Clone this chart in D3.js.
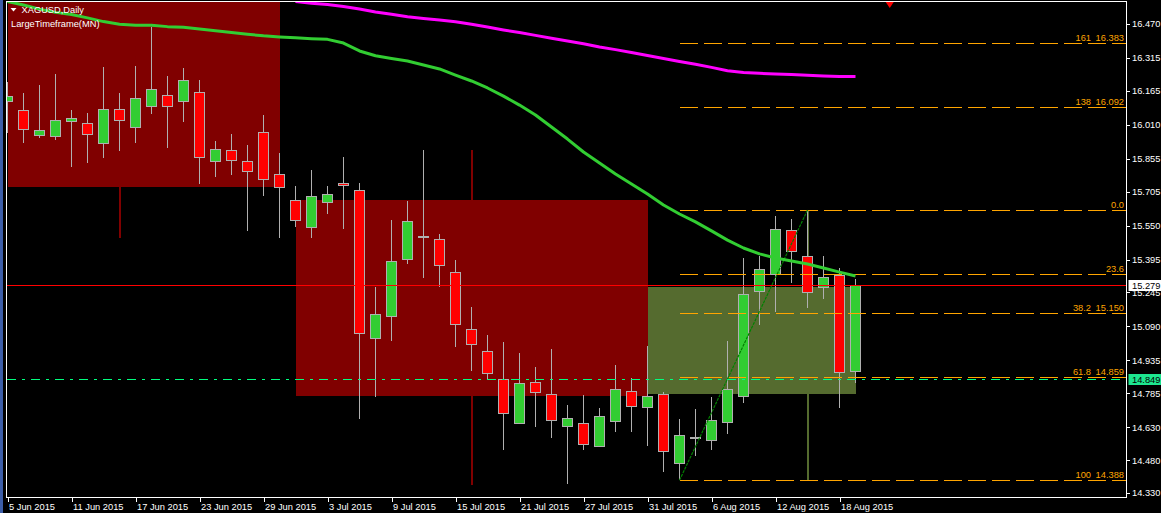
<!DOCTYPE html>
<html><head><meta charset="utf-8">
<script src="https://cdn.jsdelivr.net/npm/d3@7"></script>
<style>
html,body{margin:0;padding:0;background:#000;}
svg{display:block;}
text{font-family:"Liberation Sans",Arial,sans-serif;font-size:9.3px;}
.crisp{shape-rendering:crispEdges;}
</style></head><body>
<svg id="c" width="1161" height="513"></svg>
<script>
// ---------- DATA ----------
const dates = ["5 Jun","8 Jun","9 Jun","10 Jun","11 Jun","12 Jun","15 Jun","16 Jun","17 Jun","18 Jun","19 Jun","22 Jun","23 Jun","24 Jun","25 Jun","26 Jun","29 Jun","30 Jun",
  "1 Jul","2 Jul","3 Jul","6 Jul","7 Jul","8 Jul","9 Jul","10 Jul","13 Jul","14 Jul","15 Jul","16 Jul","17 Jul","20 Jul","21 Jul","22 Jul","23 Jul","24 Jul","27 Jul","28 Jul","29 Jul","30 Jul","31 Jul",
  "3 Aug","4 Aug","5 Aug","6 Aug","7 Aug","10 Aug","11 Aug","12 Aug","13 Aug","14 Aug","17 Aug","18 Aug","19 Aug"];
const open  = [16.117,16.076,15.960,15.956,16.024,16.017,15.924,16.081,15.997,16.093,16.145,16.115,16.158,15.842,15.894,15.844,15.976,15.784,15.666,15.541,15.656,15.743,15.711,15.036,15.136,15.396,15.498,15.488,15.337,15.077,14.977,14.849,14.648,14.835,14.780,14.634,14.648,14.543,14.657,14.794,14.721,14.780,14.466,14.582,14.571,14.653,14.771,15.250,15.328,15.529,15.410,15.269,15.323,14.885];
const high  = [16.205,16.155,16.192,16.242,16.078,16.064,16.274,16.155,16.278,16.458,16.233,16.269,16.214,15.936,15.968,15.918,16.055,15.881,15.731,15.804,15.731,15.863,15.744,15.270,15.576,15.662,15.895,15.512,15.393,15.179,15.051,15.019,14.969,14.905,14.987,14.732,14.777,14.718,14.914,14.855,15.001,14.791,14.668,14.713,14.768,15.024,15.402,15.413,15.594,15.580,15.621,15.411,15.355,15.305];
const low   = [15.973,15.928,15.951,15.941,15.819,15.837,15.860,15.892,15.928,16.061,15.906,16.024,15.741,15.773,15.782,15.527,15.687,15.494,15.545,15.495,15.604,15.536,14.669,14.769,15.025,15.376,15.312,15.271,14.998,14.888,14.846,14.528,14.648,14.633,14.582,14.370,14.528,14.543,14.610,14.610,14.546,14.427,14.388,14.500,14.528,14.601,14.742,15.098,15.157,15.290,15.176,15.217,14.719,14.833];
const close = [16.137,15.988,15.982,16.031,16.040,15.965,16.081,16.029,16.131,16.172,16.093,16.213,15.860,15.898,15.846,15.796,15.761,15.725,15.574,15.684,15.693,15.734,15.059,15.145,15.387,15.570,15.498,15.367,15.100,15.009,14.876,14.694,14.831,14.790,14.662,14.671,14.552,14.680,14.803,14.726,14.771,14.520,14.593,14.582,14.662,14.803,15.237,15.351,15.533,15.433,15.246,15.314,14.881,15.275];

// moving averages
const maGreen = [16.573,16.557,16.538,16.523,16.513,16.498,16.481,16.469,16.464,16.464,16.458,16.455,16.447,16.439,16.431,16.423,16.416,16.411,16.407,16.403,16.400,16.383,16.347,16.325,16.313,16.301,16.283,16.265,16.237,16.210,16.178,16.141,16.100,16.055,16.000,15.945,15.886,15.836,15.786,15.740,15.694,15.644,15.603,15.567,15.526,15.484,15.448,15.421,15.402,15.389,15.375,15.357,15.338,15.320];
const maMagentaStart = 18;
const maMagenta = [16.573,16.565,16.559,16.550,16.538,16.525,16.514,16.503,16.495,16.488,16.480,16.469,16.456,16.443,16.431,16.418,16.405,16.392,16.380,16.365,16.353,16.340,16.326,16.313,16.299,16.286,16.272,16.257,16.249,16.245,16.242,16.240,16.236,16.233,16.231,16.230];

// monthly (large timeframe) candles
const monthStart  = [0, 18, 40];
const monthEnd    = [17, 40, 53];
const monthTop    = [16.62, 15.667, 15.272];
const monthBottom = [15.726, 14.774, 14.783];
const monthWick   = [7, 29, 50];
const monthHigh   = [16.90, 15.895, 15.621];
const monthLow    = [15.494, 14.366, 14.388];
const monthColor  = ["#800000", "#800000", "#556B2F"];

// fibonacci
const fibStartIdx = 42, fibEndIdx = 50;
const fibLevels = ["161", "138", "0.0", "23.6", "38.2", "61.8", "100"];
const fibPrices = [16.383, 16.092, 15.621, 15.330, 15.150, 14.859, 14.388];
const fibShowPrice = [true, true, false, false, true, true, true];

// horizontal lines
const redLinePrice = 15.279;
const bidPrice = 14.849;

// arrow marker at top
const arrowIdx = 55.14, arrowPrice = 16.566;

// axes
const yTicks = [16.470,16.315,16.165,16.010,15.855,15.705,15.550,15.395,15.245,15.090,14.935,14.785,14.630,14.480,14.330];
const xTickIdx = [0,4,8,12,16,20,24,28,32,36,40,44,48,52];
const xTickLabels = ["5 Jun 2015","11 Jun 2015","17 Jun 2015","23 Jun 2015","29 Jun 2015","3 Jul 2015","9 Jul 2015","15 Jul 2015","21 Jul 2015","27 Jul 2015","31 Jul 2015","6 Aug 2015","12 Aug 2015","18 Aug 2015"];

// ---------- DRAW ----------
const svg = d3.select("#c");
const L = 6.5, R = 1126.5, T = 1.5, B = 497.5;

const x = d3.scaleLinear().domain([0, 53]).range([7.5, 855.5]);
const y = d3.scaleLinear().domain([14.330, 16.470]).range([493, 24]);

svg.append("rect").attr("width", 1161).attr("height", 513).attr("fill", "#000");
svg.append("rect").attr("x", 0).attr("y", 0).attr("width", 3).attr("height", 513).attr("fill", "#3d5ea8");

svg.append("defs").append("clipPath").attr("id", "plot")
  .append("rect").attr("x", 7).attr("y", 2).attr("width", R - 7).attr("height", B - 2);

const g = svg.append("g").attr("clip-path", "url(#plot)");

// monthly rects + wicks
monthStart.forEach((s, k) => {
  g.append("line").attr("class", "crisp")
    .attr("x1", x(monthWick[k])).attr("x2", x(monthWick[k]))
    .attr("y1", y(monthHigh[k])).attr("y2", y(monthLow[k]))
    .attr("stroke", monthColor[k]).attr("stroke-width", 2);
  g.append("rect").attr("class", "crisp")
    .attr("x", x(s)).attr("width", x(monthEnd[k]) - x(s))
    .attr("y", y(monthTop[k])).attr("height", y(monthBottom[k]) - y(monthTop[k]))
    .attr("fill", monthColor[k]);
});

// candles
const idx = d3.range(open.length);
const wickCol = "#b0b0b0";
g.append("g").selectAll("line").data(idx).join("line").attr("class", "crisp")
  .attr("x1", i => x(i)).attr("x2", i => x(i))
  .attr("y1", i => y(high[i])).attr("y2", i => y(low[i]))
  .attr("stroke", wickCol).attr("stroke-width", 1);
g.append("g").selectAll("rect").data(idx.filter(i => open[i] !== close[i])).join("rect").attr("class", "crisp")
  .attr("x", i => x(i) - 5).attr("width", 10)
  .attr("y", i => y(Math.max(open[i], close[i])))
  .attr("height", i => Math.abs(y(open[i]) - y(close[i])))
  .attr("fill", i => close[i] > open[i] ? "#32cd32" : "#ff0000")
  .attr("stroke", wickCol).attr("stroke-width", 1);
g.append("g").selectAll("line").data(idx.filter(i => open[i] === close[i])).join("line").attr("class", "crisp")
  .attr("x1", i => x(i) - 5.5).attr("x2", i => x(i) + 5.5)
  .attr("y1", i => y(open[i])).attr("y2", i => y(open[i]))
  .attr("stroke", wickCol).attr("stroke-width", 2);

// horizontal lines
const ry = Math.round(y(redLinePrice)) + 0.5;
g.append("line").attr("class", "crisp").attr("x1", 7).attr("x2", R).attr("y1", ry).attr("y2", ry)
  .attr("stroke", "#ff0000").attr("stroke-width", 1);
const by = Math.round(y(bidPrice)) + 0.5;
g.append("line").attr("class", "crisp").attr("x1", 7).attr("x2", R).attr("y1", by).attr("y2", by)
  .attr("stroke", "#00ff7f").attr("stroke-width", 1).attr("stroke-dasharray", "9,6,3,6");

// fib lines
fibPrices.forEach((p, k) => {
  const yy = Math.round(y(p)) + 0.5;
  g.append("line").attr("class", "crisp").attr("x1", x(fibStartIdx)).attr("x2", R).attr("y1", yy).attr("y2", yy)
    .attr("stroke", "#ffa500").attr("stroke-width", 1).attr("stroke-dasharray", "18,6");
});
// fib trend line
g.append("line")
  .attr("x1", x(fibStartIdx)).attr("y1", y(fibPrices[6]))
  .attr("x2", x(fibEndIdx)).attr("y2", y(fibPrices[2]))
  .attr("stroke", "#008000").attr("stroke-width", 1.2).attr("stroke-dasharray", "3,1");

// moving averages
const lineG = d3.line().x(d => x(d[0])).y(d => y(d[1]));
g.append("path").attr("d", lineG(maGreen.map((v, i) => [i, v])))
  .attr("fill", "none").attr("stroke", "#32cd32").attr("stroke-width", 3).attr("stroke-linejoin", "round");
g.append("path").attr("d", lineG(maMagenta.map((v, i) => [i + maMagentaStart, v])))
  .attr("fill", "none").attr("stroke", "#ff00ff").attr("stroke-width", 3).attr("stroke-linejoin", "round");

// fib labels
fibPrices.forEach((p, k) => {
  const yy = Math.round(y(p)) - 2;
  if (fibShowPrice[k]) {
    g.append("text").attr("x", 1124).attr("y", yy).attr("text-anchor", "end").attr("fill", "#ffa500").text(p.toFixed(3));
    g.append("text").attr("x", 1091).attr("y", yy).attr("text-anchor", "end").attr("fill", "#ffa500").text(fibLevels[k]);
  } else {
    g.append("text").attr("x", 1124).attr("y", yy).attr("text-anchor", "end").attr("fill", "#ffa500").text(fibLevels[k]);
  }
});

// border
svg.append("rect").attr("class", "crisp").attr("x", L).attr("y", T).attr("width", R - L).attr("height", B - T)
  .attr("fill", "none").attr("stroke", "#fff").attr("stroke-width", 1);

// arrow marker
const ax = x(arrowIdx), ay = y(arrowPrice);
svg.append("path").attr("d", `M${ax - 4},${ay - 1}L${ax + 4},${ay - 1}L${ax},${ay + 5}Z`).attr("fill", "#ff0000");

// right axis
const yAxis = svg.append("g").attr("transform", `translate(${R},0)`)
  .call(d3.axisRight(y).tickValues(yTicks).tickFormat(d3.format(".3f")).tickSize(3).tickPadding(2.5));
yAxis.select(".domain").remove();
yAxis.selectAll("line").attr("stroke", "#fff").attr("class", "crisp");
yAxis.selectAll("text").attr("fill", "#fff").style("font-size", "9.3px").style("font-family", '"Liberation Sans",Arial,sans-serif');

// bottom axis
const xAxis = svg.append("g").attr("transform", `translate(0,${B})`)
  .call(d3.axisBottom(x).tickValues(xTickIdx).tickFormat((d, i) => xTickLabels[i]).tickSize(4).tickSizeOuter(0));
xAxis.select(".domain").remove();
xAxis.selectAll("line").attr("stroke", "#fff").attr("class", "crisp");
xAxis.selectAll("text").attr("fill", "#fff").attr("text-anchor", "start").attr("x", 1).attr("y", 6)
  .style("font-size", "9.3px").style("font-family", '"Liberation Sans",Arial,sans-serif');

// price boxes on the axis
function priceBox(p, bg) {
  const yy = Math.round(y(p)) + 0.5;
  svg.append("rect").attr("x", 1128.5).attr("y", yy - 5.5).attr("width", 33).attr("height", 11).attr("fill", bg);
  svg.append("text").attr("x", 1132).attr("y", yy).attr("dy", "0.35em").attr("fill", "#000").text(p.toFixed(3));
}
priceBox(redLinePrice, "#ffffff");
priceBox(bidPrice, "#1de68f");

// title
svg.append("path").attr("d", "M10.5,8L16.5,8L13.5,11.5Z").attr("fill", "#fff");
svg.append("text").attr("x", 21.5).attr("y", 13.3).attr("fill", "#fff").text("XAGUSD,Daily");
svg.append("text").attr("x", 11).attr("y", 26.5).attr("fill", "#fff").text("LargeTimeframe(MN)");
</script></body></html>
